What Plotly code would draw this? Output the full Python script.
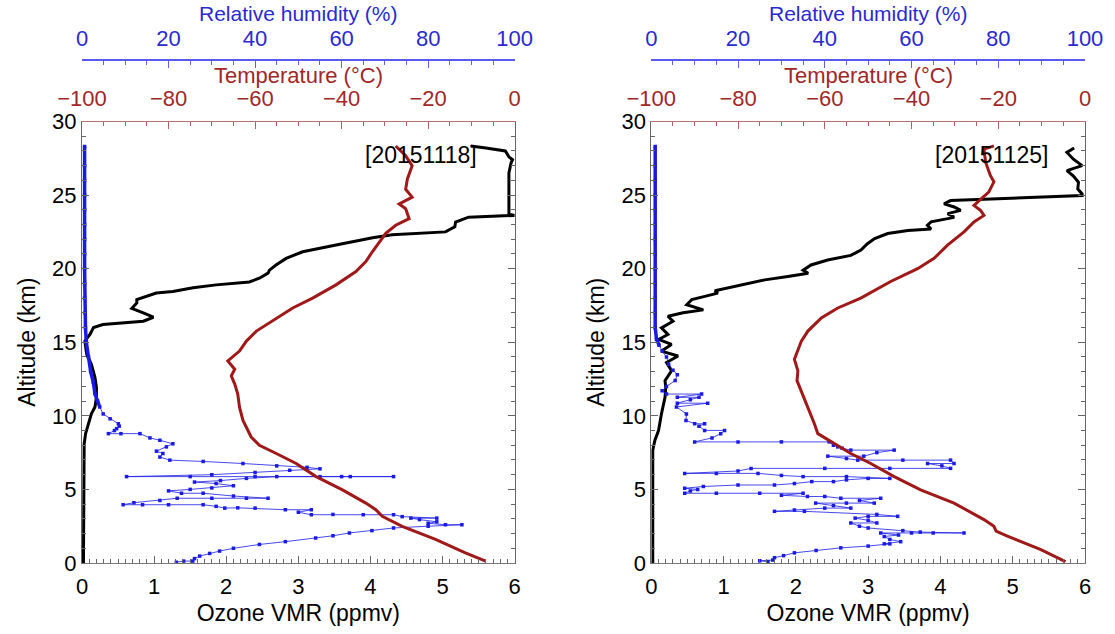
import plotly.graph_objects as go

# ---------------- Sounding 2015-11-18 ----------------
o3_alt_1118 = [0.0, 2.0, 4.0, 6.0, 7.2, 8.1, 8.79, 9.46, 10.13, 10.6, 11.26, 11.94, 12.6, 13.5,
               14.18, 15.08, 15.53, 16.0, 16.2, 16.43, 16.7, 17.0, 17.3, 17.67, 17.9, 18.35,
               18.45, 18.7, 18.9, 19.1, 19.35, 19.7, 19.9, 20.25, 20.7, 21.15, 21.5, 21.7,
               22.1, 22.3, 22.5, 22.84, 23.17, 23.5, 23.62, 23.7, 25.0, 26.5, 27.2, 27.4,
               27.6, 28.0, 28.2, 28.34]
o3_vmr_1118 = [0.02, 0.02, 0.02, 0.02, 0.025, 0.03, 0.05, 0.09, 0.13, 0.18, 0.2, 0.2, 0.18, 0.13,
               0.065, 0.04, 0.11, 0.16, 0.29, 0.85, 0.99, 0.85, 0.69, 0.76, 0.76, 1.03,
               1.26, 1.54, 1.86, 2.32, 2.46, 2.58, 2.6, 2.69, 2.83, 3.06, 3.38, 3.61,
               4.03, 4.3, 5.04, 5.17, 5.18, 5.36, 6.0, 5.92, 5.92, 5.92, 5.95, 5.97,
               5.92, 5.87, 5.6, 5.39]

t_alt_1118 = [0.13, 0.69, 1.6, 2.49, 3.17, 3.62, 4.07, 4.97, 5.87, 6.76, 7.44, 8.0, 8.56, 9.69,
              10.59, 11.48, 12.16, 12.72, 13.17, 13.73, 14.4, 15.08, 15.76, 16.65, 17.33, 18.0,
              18.9, 19.8, 20.48, 21.15, 21.83, 22.4, 22.95, 23.4, 24.07, 24.4, 24.86, 25.4,
              26.1, 27.0, 27.67, 28.34]
t_degc_1118 = [-6.7, -11.4, -18.3, -26.0, -30.6, -32.1, -34.4, -39.8, -45.9, -50.5, -55.1, -59.0,
               -60.9, -62.8, -63.6, -64.0, -64.7, -65.5, -64.7, -66.3, -63.6, -62.0, -59.7,
               -55.1, -51.3, -46.7, -41.3, -36.7, -34.4, -32.9, -31.3, -29.8, -27.5, -24.4,
               -25.2, -26.7, -23.7, -25.2, -24.8, -23.7, -25.2, -27.5]

rh_alt_1118 = [0.05, 0.13, 0.13, 0.3, 0.47, 0.65, 0.81, 1.0, 1.26, 1.45, 1.7, 1.85, 2.04, 2.2,
               2.38, 2.5, 2.6, 2.6, 2.7, 2.8, 2.95, 3.05, 3.05, 3.15, 3.28, 3.28, 3.3, 3.28,
               3.45, 3.62, 3.62, 3.73, 3.75, 3.73, 3.85, 3.96, 3.96, 3.96, 3.96, 4.1, 4.25,
               4.4, 4.4, 4.4, 4.4, 4.55, 4.74, 4.74, 4.9, 5.0, 5.1, 5.25, 5.4, 5.5, 5.6, 5.75,
               5.87, 5.87, 5.87, 5.87, 5.87, 5.87, 5.87, 5.87, 6.0, 6.15, 6.3, 6.4, 6.5, 6.6,
               6.76, 6.9, 6.99, 7.2, 7.44, 7.6, 7.89, 8.1, 8.34, 8.5, 8.79, 8.79, 8.79, 9.0,
               9.13, 9.3, 9.46, 9.8, 10.13, 10.6, 11.0, 11.5, 12.3, 13.0, 14.0, 15.0, 16.0,
               17.0, 18.0, 19.0, 20.0, 21.0, 22.0, 23.0, 24.0, 25.0, 26.0, 27.0, 28.3]
rh_pct_1118 = [21.8, 23.5, 25.6, 26.0, 27.2, 29.5, 31.8, 35.0, 41.0, 47.0, 54.0, 58.0, 61.8, 67.0,
               72.0, 80.0, 87.8, 84.0, 80.0, 82.0, 78.0, 76.0, 82.0, 74.0, 72.0, 65.0, 58.0, 53.0,
               50.0, 53.0, 47.0, 40.0, 36.0, 33.0, 31.0, 28.0, 20.0, 14.0, 9.5, 12.0, 18.0,
               22.0, 30.0, 38.0, 43.0, 35.0, 28.0, 23.0, 20.0, 25.0, 30.0, 35.0, 31.0, 26.0, 32.0,
               38.0, 45.0, 55.0, 62.0, 72.0, 60.0, 40.0, 25.0, 10.3, 30.0, 40.0, 48.0, 55.0, 52.0,
               45.0, 37.2, 28.0, 20.3, 18.0, 18.7, 17.2, 19.5, 21.0, 18.0, 15.7, 13.4, 9.0, 6.1,
               7.5, 8.0, 8.6, 8.4, 6.5, 4.9, 4.1, 3.6, 3.0, 2.6, 2.0, 1.5, 1.0, 0.8,
               0.7, 0.6, 0.6, 0.6, 0.6, 0.6, 0.6, 0.6, 0.6, 0.6, 0.6, 0.6]

# ---------------- Sounding 2015-11-25 ----------------
o3_alt_1125 = [0.0, 4.0, 7.67, 8.34, 9.0, 10.13, 11.26, 11.94, 12.39, 13.06, 13.62, 14.07, 14.4,
               14.85, 15.19, 15.53, 15.98, 16.43, 16.77, 17.0, 17.2, 17.55, 17.9, 18.12, 18.34,
               18.5, 18.68, 19.0, 19.24, 19.47, 19.69, 19.9, 20.25, 20.59, 20.9, 21.26, 21.7,
               22.05, 22.39, 22.6, 22.7, 22.95, 23.18, 23.4, 23.5, 23.74, 23.96, 24.19, 24.4,
               24.63, 24.68, 24.97, 25.08, 25.42, 25.87, 26.3, 26.66, 27.0, 27.44, 27.9, 28.2]
o3_vmr_1125 = [0.02, 0.02, 0.02, 0.05, 0.1, 0.14, 0.19, 0.2, 0.19, 0.28, 0.21, 0.37, 0.14,
               0.28, 0.1, 0.23, 0.14, 0.3, 0.23, 0.44, 0.72, 0.49, 0.56, 0.74, 0.92,
               0.88, 1.06, 1.38, 1.57, 1.89, 2.17, 2.1, 2.21, 2.44, 2.76, 2.9, 2.99,
               3.09, 3.27, 3.55, 3.87, 3.82, 3.87, 4.1, 4.19, 4.1, 4.28, 4.19, 4.05,
               4.14, 4.42, 5.96, 5.96, 5.9, 5.91, 5.84, 5.75, 5.96, 5.84, 5.75, 5.85]

t_alt_1125 = [0.09, 0.92, 1.82, 2.16, 2.49, 2.95, 4.07, 4.97, 5.87, 6.76, 7.44, 8.11, 8.79, 9.46,
              10.59, 11.48, 12.39, 13.06, 13.84, 15.08, 15.76, 16.65, 17.33, 18.0, 19.13, 20.0,
              20.7, 21.6, 22.5, 23.18, 23.62, 23.96, 24.3, 24.63, 25.2, 25.9, 26.32, 27.22,
              28.12, 28.34]
t_degc_1125 = [-4.5, -10.3, -17.9, -20.5, -21.0, -23.3, -30.2, -37.9, -44.0, -49.4, -54.0, -57.8,
               -61.6, -62.4, -63.9, -65.1, -66.4, -66.2, -67.0, -65.4, -63.9, -60.8, -57.0,
               -51.7, -44.8, -38.6, -34.8, -31.7, -27.9, -25.6, -23.3, -24.1, -25.6, -24.4,
               -22.2, -21.0, -21.8, -22.9, -23.3, -21.0]

rh_alt_1125 = [0.09, 0.15, 0.2, 0.36, 0.5, 0.69, 0.85, 1.03, 1.15, 1.3, 1.3, 1.45, 1.6, 1.8, 1.9,
               2.04, 2.04, 2.04, 2.04, 2.1, 2.2, 2.38, 2.5, 2.72, 2.72, 2.9, 3.05, 3.17, 3.17,
               3.3, 3.51, 3.51, 3.6, 3.73, 3.73, 3.9, 4.07, 4.07, 4.07, 4.25, 4.4, 4.4, 4.52,
               4.52, 4.6, 4.74, 4.74, 4.74, 4.74, 4.9, 5.0, 5.08, 5.2, 5.3, 5.3, 5.4, 5.53,
               5.53, 5.65, 5.75, 5.75, 5.87, 5.87, 5.95, 6.09, 6.09, 6.09, 6.25, 6.43, 6.43,
               6.43, 6.43, 6.6, 6.76, 6.76, 6.99, 6.99, 6.99, 7.1, 7.26, 7.26, 7.5, 7.67, 7.67,
               7.8, 7.89, 8.0, 8.23, 8.23, 8.23, 8.23, 8.5, 8.79, 9.01, 9.01, 9.3, 9.46, 9.46,
               9.69, 10.13, 10.6, 10.86, 10.86, 11.1, 11.26, 11.26, 11.48, 11.48, 11.7, 12.0,
               12.4, 12.8, 13.1, 13.5, 14.0, 14.4, 14.8, 15.2, 16.0, 17.0, 18.0, 19.0, 20.0,
               21.0, 22.0, 23.0, 24.0, 25.0, 26.0, 27.0, 28.3]
rh_pct_1125 = [26.9, 25.0, 28.0, 28.4, 30.5, 33.0, 38.0, 43.7, 50.0, 55.0, 53.7, 57.5, 55.0, 53.7,
               57.0, 52.9, 60.0, 65.0, 72.1, 62.0, 58.0, 50.0, 48.0, 46.0, 52.0, 50.0, 47.0,
               50.0, 56.8, 52.0, 35.3, 28.4, 33.0, 40.0, 46.0, 42.0, 37.9, 45.0, 51.4, 48.0,
               52.9, 43.7, 40.0, 36.0, 30.0, 35.0, 25.0, 15.0, 7.7, 9.0, 10.7, 7.7, 12.0, 20.0,
               28.4, 33.0, 37.0, 42.0, 45.0, 50.0, 55.0, 45.0, 35.0, 30.0, 24.6, 15.0, 7.7,
               20.0, 23.0, 40.0, 55.0, 69.0, 67.0, 63.7, 69.8, 69.0, 58.0, 47.6, 45.0, 40.7,
               49.0, 52.0, 56.0, 46.0, 44.0, 43.0, 42.0, 41.0, 30.0, 20.0, 10.0, 14.0, 16.0,
               16.9, 12.3, 11.0, 12.3, 10.0, 8.0, 8.1, 5.8, 13.0, 6.0, 9.0, 11.0, 6.0, 11.6,
               3.5, 2.5, 3.5, 5.5, 6.0, 5.0, 4.0, 3.5, 2.5, 1.8, 1.2, 0.9, 0.9, 0.9, 0.9,
               0.9, 0.9, 0.9, 0.9, 0.9, 0.9, 0.9, 0.9, 0.9]

dates = ["[20151118]", "[20151125]"]

FONT = "Liberation Sans, Arial, Helvetica, sans-serif"
O3_COLOR = "black"
T_COLOR = "#a01818"
RH_COLOR = "#1a1ae6"
T_TEXT = "#a02828"
RH_TEXT = "#2a2ad0"
TICK_SIZE = 22
TITLE_SIZE = 22
# altitude above which each humidity profile becomes a dense, nearly constant trail
dry_alt = [10.5, 14.5]

fig = go.Figure()

panels = [
    (o3_alt_1118, o3_vmr_1118, t_alt_1118, t_degc_1118, rh_alt_1118, rh_pct_1118),
    (o3_alt_1125, o3_vmr_1125, t_alt_1125, t_degc_1125, rh_alt_1125, rh_pct_1125),
]
domains = [[0.0, 0.4314], [0.5676, 1.0]]
y_top = 0.8777

for i, (oa, ov, ta, tv, ra, rv) in enumerate(panels):
    xo = "x" if i == 0 else "x4"
    xr = "x2" if i == 0 else "x5"
    xt = "x3" if i == 0 else "x6"
    yy = "y" if i == 0 else "y2"
    fig.add_trace(go.Scatter(x=ov, y=oa, mode="lines", xaxis=xo, yaxis=yy,
                             line=dict(color=O3_COLOR, width=3), showlegend=False))
    up = [k for k, a in enumerate(ra) if a >= dry_alt[i]]
    fig.add_trace(go.Scatter(x=[rv[k] for k in up], y=[ra[k] for k in up], mode="lines",
                             xaxis=xr, yaxis=yy, line=dict(color=RH_COLOR, width=3.5),
                             showlegend=False))
    fig.add_trace(go.Scatter(x=rv, y=ra, mode="lines+markers", xaxis=xr, yaxis=yy,
                             line=dict(color=RH_COLOR, width=0.8),
                             marker=dict(color=RH_COLOR, size=3.5, symbol="square"),
                             showlegend=False))
    fig.add_trace(go.Scatter(x=tv, y=ta, mode="lines", xaxis=xt, yaxis=yy,
                             line=dict(color=T_COLOR, width=3), showlegend=False))

tick_font = dict(family=FONT, size=TICK_SIZE, color="black")


def ozone_axis(domain, anchor):
    return dict(domain=domain, anchor=anchor, range=[0, 6], dtick=1, tick0=0,
                ticks="inside", ticklen=7, tickcolor="#666", tickwidth=1,
                minor=dict(dtick=0.1, ticks="inside", ticklen=4, tickcolor="#666"),
                showline=True, linecolor="#777", linewidth=1, mirror=False,
                showgrid=False, zeroline=False, tickfont=tick_font, ticklabelstandoff=4,
                title=dict(text="Ozone VMR (ppmv)", font=dict(family=FONT, size=23),
                           standoff=6))


def temp_axis(overlay, anchor):
    return dict(overlaying=overlay, anchor=anchor, side="top", range=[-100, 0], dtick=20,
                ticks="inside", ticklen=7, tickcolor="#b06060",
                minor=dict(dtick=5, ticks="inside", ticklen=4, tickcolor="#b06060"),
                showline=True, linecolor="#b87070", linewidth=1,
                showgrid=False, zeroline=False, ticklabelstandoff=6,
                tickfont=dict(family=FONT, size=TICK_SIZE, color=T_TEXT))


def rh_axis(overlay):
    return dict(overlaying=overlay, anchor="free", position=1.0, side="top", range=[0, 100],
                dtick=20, ticks="inside", ticklen=7, tickcolor="#6060e0",
                minor=dict(dtick=5, ticks="inside", ticklen=4, tickcolor="#6060e0"),
                showline=True, linecolor="#5a5af0", linewidth=1.5,
                showgrid=False, zeroline=False, ticklabelstandoff=4,
                tickfont=dict(family=FONT, size=TICK_SIZE, color=RH_TEXT))


def alt_axis(anchor):
    return dict(domain=[0, y_top], anchor=anchor, range=[0, 30], dtick=5,
                ticks="inside", ticklen=7, tickcolor="#666",
                minor=dict(dtick=1, ticks="inside", ticklen=4, tickcolor="#666"),
                showline=True, linecolor="#666", linewidth=1, mirror="ticks",
                showgrid=False, zeroline=False, tickfont=tick_font,
                title=dict(text="Altitude (km)", font=dict(family=FONT, size=23),
                           standoff=10))


fig.update_layout(
    width=1115, height=634,
    margin=dict(l=82, r=27, t=60, b=67),
    paper_bgcolor="white", plot_bgcolor="white",
    font=dict(family=FONT, size=TICK_SIZE, color="black"),
    xaxis=ozone_axis(domains[0], "y"),
    xaxis2=rh_axis("x"),
    xaxis3=temp_axis("x", "y"),
    xaxis4=ozone_axis(domains[1], "y2"),
    xaxis5=rh_axis("x4"),
    xaxis6=temp_axis("x4", "y2"),
    yaxis=alt_axis("x"),
    yaxis2=alt_axis("x4"),
)

# titles of the two stacked top axes, set just above their tick labels
for dom in domains:
    xc = (dom[0] + dom[1]) / 2
    fig.add_annotation(x=xc, y=0.9685, xref="paper", yref="paper",
                       xanchor="center", yanchor="middle",
                       text="Temperature (°C)", showarrow=False,
                       font=dict(family=FONT, size=TITLE_SIZE, color=T_TEXT))
    fig.add_annotation(x=xc, y=1.0927, xref="paper", yref="paper",
                       xanchor="center", yanchor="middle",
                       text="Relative humidity (%)", showarrow=False,
                       font=dict(family=FONT, size=21, color=RH_TEXT))

for i, d in enumerate(dates):
    fig.add_annotation(x=4.7, y=27.75, xref="x" if i == 0 else "x4",
                       yref="y" if i == 0 else "y2",
                       xanchor="center", yanchor="middle",
                       text=d, showarrow=False,
                       font=dict(family=FONT, size=23, color="black"))

fig.write_html("out.html")
